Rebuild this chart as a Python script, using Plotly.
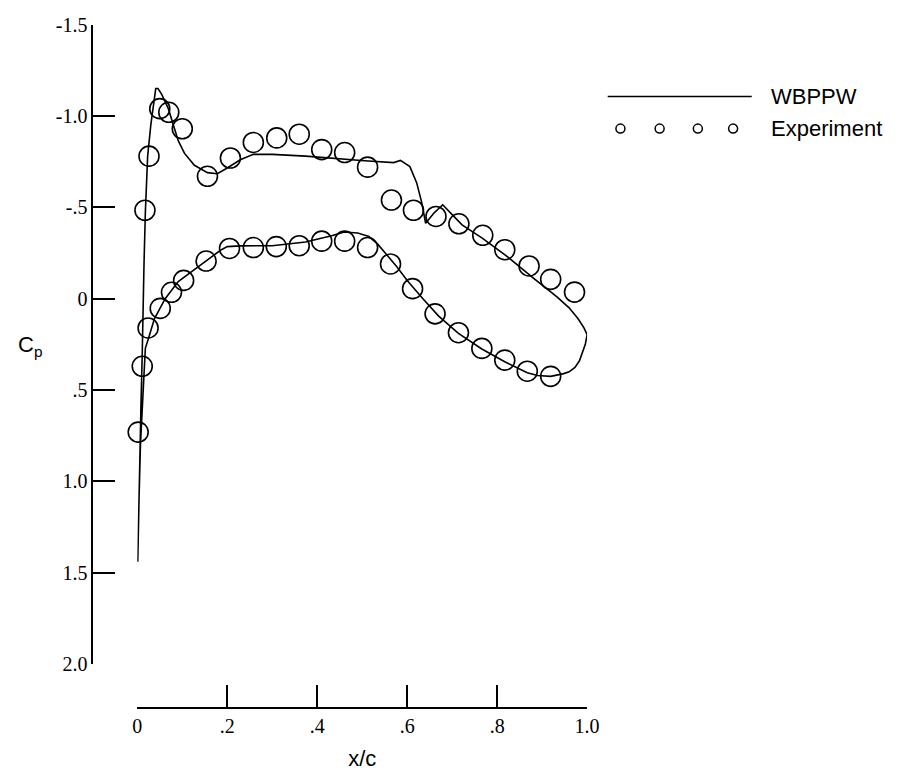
import plotly.graph_objects as go

W, H = 899, 784

# ---- WBPPW computed Cp: upper surface (LE stagnation -> TE), then lower surface (TE -> LE)
wb_x = [0.001, 0.004, 0.008, 0.011, 0.013, 0.015, 0.018, 0.023, 0.030, 0.036, 0.041, 0.046,
        0.054, 0.069, 0.080, 0.091, 0.105, 0.127, 0.156, 0.178, 0.200, 0.229, 0.258, 0.300,
        0.374, 0.432, 0.505, 0.570, 0.585, 0.606, 0.621, 0.632, 0.641, 0.660, 0.679, 0.700,
        0.722, 0.766, 0.824, 0.882, 0.933, 0.960, 0.980, 0.993, 1.000,
        0.996, 0.991, 0.983, 0.973, 0.960, 0.948, 0.930, 0.919, 0.890, 0.867, 0.817, 0.766,
        0.714, 0.670, 0.635, 0.600, 0.577, 0.555, 0.534, 0.515, 0.490, 0.460, 0.432, 0.374,
        0.300, 0.229, 0.200, 0.185, 0.160, 0.134, 0.091, 0.062, 0.038, 0.025, 0.018, 0.015,
        0.011, 0.007, 0.004]
wb_cp = [1.44, 1.00, 0.60, 0.30, 0.00, -0.20, -0.48, -0.78, -0.95, -1.07, -1.15, -1.15,
         -1.12, -1.04, -0.95, -0.865, -0.795, -0.73, -0.69, -0.684, -0.715, -0.76, -0.79, -0.79,
         -0.78, -0.768, -0.755, -0.745, -0.757, -0.723, -0.635, -0.53, -0.413, -0.47, -0.514, -0.46,
         -0.404, -0.333, -0.228, -0.11, -0.01, 0.05, 0.11, 0.16, 0.197,
         0.25, 0.287, 0.34, 0.376, 0.40, 0.41, 0.42, 0.425, 0.42, 0.405, 0.345, 0.275,
         0.19, 0.095, 0.00, -0.10, -0.175, -0.24, -0.30, -0.34, -0.36, -0.365, -0.345, -0.31,
         -0.29, -0.289, -0.285, -0.265, -0.22, -0.174, -0.094, 0.00, 0.11, 0.216, 0.27, 0.41,
         0.59, 0.80, 1.08]

# ---- Experiment
exp_upper_x = [0.017, 0.026, 0.050, 0.070, 0.100, 0.156, 0.207, 0.258, 0.310, 0.360, 0.410,
               0.461, 0.512, 0.565, 0.614, 0.664, 0.715, 0.768, 0.817, 0.871, 0.919, 0.972]
exp_upper_cp = [-0.484, -0.78, -1.04, -1.02, -0.93, -0.67, -0.77, -0.855, -0.88, -0.90, -0.816,
                -0.80, -0.72, -0.54, -0.484, -0.45, -0.41, -0.347, -0.268, -0.179, -0.106, -0.036]
exp_lower_x = [0.002, 0.011, 0.024, 0.051, 0.076, 0.103, 0.153, 0.205, 0.258, 0.309, 0.360,
               0.410, 0.461, 0.512, 0.563, 0.612, 0.662, 0.714, 0.766, 0.817, 0.867, 0.919]
exp_lower_cp = [0.73, 0.37, 0.16, 0.053, -0.035, -0.10, -0.206, -0.275, -0.28, -0.285, -0.29,
                -0.315, -0.315, -0.28, -0.19, -0.055, 0.083, 0.186, 0.272, 0.336, 0.397, 0.425]

x_ticks = [0, 0.2, 0.4, 0.6, 0.8, 1.0]
x_ticklabels = ["0", ".2", ".4", ".6", ".8", "1.0"]
y_ticks = [-1.5, -1.0, -0.5, 0, 0.5, 1.0, 1.5, 2.0]
y_ticklabels = ["-1.5", "-1.0", "-.5", "0", ".5", "1.0", "1.5", "2.0"]

legend_names = ["WBPPW", "Experiment"]
x_title = "x/c"

def px(x):
    return x / W

def py(y):
    return 1 - y / H

fig = go.Figure()
fig.add_trace(go.Scatter(x=wb_x, y=wb_cp, mode="lines", name=legend_names[0],
                         line=dict(color="black", width=1.6), showlegend=False))
fig.add_trace(go.Scatter(x=exp_upper_x + exp_lower_x, y=exp_upper_cp + exp_lower_cp,
                         mode="markers", name=legend_names[1], cliponaxis=False,
                         marker=dict(symbol="circle-open", size=20,
                                     line=dict(color="black", width=1.6), color="black"),
                         showlegend=False))

tick_font = dict(family="Liberation Serif", size=20, color="black")
axis_common = dict(showline=True, linecolor="black", linewidth=1.5, ticks="inside",
                   ticklen=22, tickwidth=1.5, tickcolor="black", showgrid=False,
                   zeroline=False, tickfont=tick_font)

sans = "Liberation Sans"
fig.update_layout(
    width=W, height=H, margin=dict(l=0, r=0, t=0, b=0),
    paper_bgcolor="white", plot_bgcolor="white", showlegend=False,
    xaxis=dict(domain=[px(135), px(594)], range=[0, 1.0], anchor="free",
               position=py(717), tickvals=x_ticks, ticktext=x_ticklabels,
               title=dict(text=x_title, font=dict(family=sans, size=22, color="black"),
                          standoff=14),
               **axis_common),
    yaxis=dict(domain=[py(672), py(14)], range=[2.0, -1.5], anchor="free",
               position=px(89), tickvals=y_ticks, ticktext=y_ticklabels, **axis_common),
)

ann = [
    dict(text="C<sub>p</sub>", x=px(26), y=py(345), xanchor="center", yanchor="middle",
         font=dict(family=sans, size=22, color="black")),
    dict(text=legend_names[0], x=px(780), y=py(88), xanchor="left", yanchor="middle",
         font=dict(family=sans, size=22, color="black")),
    dict(text=legend_names[1], x=px(780), y=py(121), xanchor="left", yanchor="middle",
         font=dict(family=sans, size=22, color="black")),
]
for a in ann:
    a.update(xref="paper", yref="paper", showarrow=False)
fig.update_layout(annotations=ann)

shapes = [dict(type="line", xref="paper", yref="paper", x0=px(615), x1=px(762),
               y0=py(88), y1=py(88), line=dict(color="black", width=1.5))]
for cx in [628, 668, 707, 743]:
    shapes.append(dict(type="circle", xref="paper", yref="paper", xsizemode="pixel",
                       ysizemode="pixel", xanchor=px(cx), yanchor=py(121),
                       x0=-4.5, x1=4.5, y0=-4.5, y1=4.5,
                       line=dict(color="black", width=1.5)))
fig.update_layout(shapes=shapes)

fig.write_html("out.html")
